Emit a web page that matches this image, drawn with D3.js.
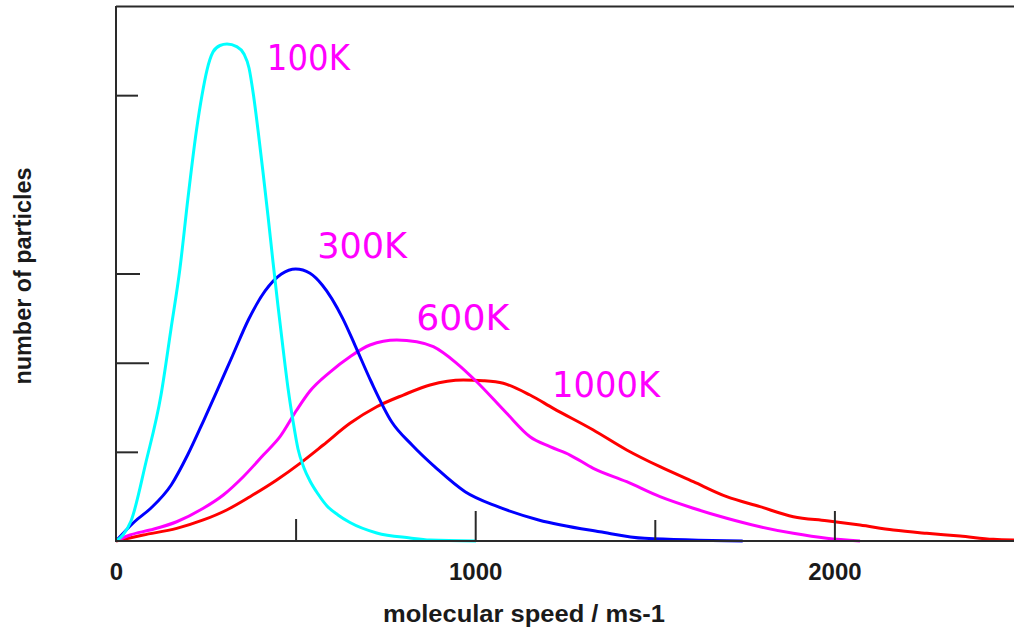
<!DOCTYPE html>
<html>
<head>
<meta charset="utf-8">
<script src="https://cdn.jsdelivr.net/npm/d3@7/dist/d3.min.js"></script>
<style>
  html, body { margin: 0; padding: 0; background: #fff; }
  svg { display: block; }
</style>
</head>
<body>
<svg id="chart" width="1014" height="632"></svg>
<script>
// ---------------- DATA ----------------
const seriesNames = ["100K", "300K", "600K", "1000K"];

// molecular speed (m/s) and relative number of particles
const speed100K = [0, 19.5, 41.8, 83.5, 125.3, 153.1, 178.2, 200.4, 224.1, 239.4, 253.3, 270.0, 289.5, 309.0, 336.0, 356.3, 370.3, 382.8, 395.3, 409.2, 423.2, 437.1, 451.0, 464.9, 478.8, 492.8, 506.7, 523.4, 540.1, 562.4, 587.4, 618.0, 651.4, 725.8, 818.5, 874.2, 1002.2];
const count100K = [0, 0.067, 0.224, 0.886, 1.637, 2.378, 3.062, 3.847, 4.609, 4.999, 5.282, 5.484, 5.557, 5.574, 5.544, 5.462, 5.305, 4.999, 4.609, 4.138, 3.645, 3.129, 2.636, 2.164, 1.716, 1.346, 1.032, 0.819, 0.673, 0.527, 0.393, 0.292, 0.207, 0.090, 0.034, 0.011, 0];

const speed300K = [0, 51.5, 96.9, 153.7, 199.3, 244.7, 278.7, 324.1, 369.7, 415.1, 460.5, 500.3, 540.1, 574.1, 631.1, 665.1, 710.5, 767.3, 824.1, 892.3, 971.9, 1062.9, 1176.5, 1346.9, 1471.9, 1744.7];
const count300K = [0, 0.216, 0.367, 0.628, 0.964, 1.357, 1.660, 2.075, 2.490, 2.804, 2.994, 3.050, 3.002, 2.871, 2.497, 2.198, 1.786, 1.338, 1.077, 0.815, 0.553, 0.385, 0.236, 0.104, 0.030, 0];

const speed600K = [0, 39, 94.7, 169, 243, 298.7, 354.4, 410.1, 456.6, 503.1, 540.1, 595.8, 651.4, 707.1, 781.5, 837.1, 883.4, 948.5, 1004.2, 1087.7, 1152.6, 1208.2, 1263.9, 1328.8, 1421.8, 1514.5, 1607.2, 1700.2, 1792.9, 1885.6, 1978.6, 2071.3];
const count600K = [0, 0.067, 0.123, 0.216, 0.367, 0.516, 0.721, 0.964, 1.170, 1.469, 1.682, 1.895, 2.067, 2.198, 2.254, 2.235, 2.179, 1.993, 1.786, 1.432, 1.170, 1.058, 0.964, 0.815, 0.665, 0.497, 0.367, 0.255, 0.160, 0.086, 0.030, 0];

const speed1000K = [0, 76, 169, 243, 308.2, 373.1, 447.4, 512.2, 577, 651.4, 725.8, 799.8, 874.2, 966.9, 1022.6, 1078.2, 1152.6, 1217.4, 1328.8, 1421.8, 1514.5, 1607.2, 1700.2, 1792.9, 1885.6, 1978.6, 2071.3, 2164, 2257, 2349.7, 2442.4, 2500];
const count1000K = [0, 0.067, 0.142, 0.236, 0.348, 0.497, 0.684, 0.871, 1.077, 1.320, 1.506, 1.637, 1.750, 1.806, 1.798, 1.769, 1.637, 1.488, 1.245, 1.021, 0.833, 0.665, 0.497, 0.385, 0.273, 0.228, 0.179, 0.123, 0.086, 0.056, 0.019, 0.011];

// where each curve's label sits (data units: speed, count)
const labelSpeed = [420, 560, 836, 1214];
const labelCount = [5.28, 3.17, 2.37, 1.615];

const xTickValues = [0, 500, 1000, 1500, 2000];
const xTickLabels = ["0", "", "1000", "", "2000"];
const yTickValues = [1, 2, 3, 5];

const xTitle = "molecular speed / ms-1";
const yTitle = "number of particles";

// ---------------- STYLE ----------------
const colors = ["#00ffff", "#0000ff", "#ff00ff", "#ff0000"];
const axisColor = "#2a2a2a";
const xTickLen = {0: 0, 500: 22, 1000: 30, 1500: 21, 2000: 30};
const yTickLen = {1: 22, 2: 33, 3: 24, 5: 22};
const labelWidths = [83, 90, 93, 108];

// ---------------- CHART ----------------
const svg = d3.select("#chart");
const x = d3.scaleLinear().domain([0, 2500]).range([116, 1014]);
const y = d3.scaleLinear().domain([0, 6]).range([541, 6]);

const series = [
  {name: seriesNames[0], s: speed100K, c: count100K},
  {name: seriesNames[1], s: speed300K, c: count300K},
  {name: seriesNames[2], s: speed600K, c: count600K},
  {name: seriesNames[3], s: speed1000K, c: count1000K}
];

// top frame line
svg.append("line")
  .attr("x1", x(0)).attr("x2", x(2500))
  .attr("y1", y(6) + 0.5).attr("y2", y(6) + 0.5)
  .attr("stroke", axisColor).attr("stroke-width", 2);

// curves
const line = d3.line()
  .x(d => x(d[0]))
  .y(d => y(d[1]))
  .curve(d3.curveMonotoneX);

const order = [3, 2, 1, 0];
order.forEach(i => {
  const sr = series[i];
  const pts = sr.s.map((v, k) => [v, sr.c[k]]);
  svg.append("path")
    .datum(pts)
    .attr("d", line)
    .attr("fill", "none")
    .attr("stroke", colors[i])
    .attr("stroke-width", 3)
    .attr("stroke-linejoin", "round");
});

// x axis
const xAxis = d3.axisBottom(x)
  .tickValues(xTickValues)
  .tickFormat((d, i) => xTickLabels[i])
  .tickSizeOuter(0)
  .tickSizeInner(0)
  .tickPadding(22);
const gx = svg.append("g").attr("transform", `translate(0,${y(0)})`).call(xAxis);
gx.select(".domain").attr("stroke", axisColor).attr("stroke-width", 2)
  .attr("d", `M${x(0)},0H${x(2500)}`);
gx.selectAll(".tick line")
  .attr("y2", d => -xTickLen[d])
  .attr("stroke", axisColor).attr("stroke-width", 2);
gx.selectAll(".tick text")
  .attr("fill", "#1a1a1a")
  .style("font-family", "'Liberation Sans', Arial, sans-serif")
  .style("font-weight", "bold")
  .style("font-size", "24px");

// y axis
const yAxis = d3.axisLeft(y)
  .tickValues(yTickValues)
  .tickFormat("")
  .tickSizeOuter(0)
  .tickSizeInner(0);
const gy = svg.append("g").attr("transform", `translate(${x(0)},0)`).call(yAxis);
gy.select(".domain").attr("stroke", axisColor).attr("stroke-width", 2)
  .attr("d", `M0,${y(6)}V${y(0) + 1}`);
gy.selectAll(".tick line")
  .attr("x2", d => yTickLen[d])
  .attr("stroke", axisColor).attr("stroke-width", 2);

// curve labels
series.forEach((sr, i) => {
  svg.append("text")
    .attr("x", x(labelSpeed[i]))
    .attr("y", y(labelCount[i]))
    .attr("fill", "#ff00ff")
    .attr("textLength", labelWidths[i])
    .attr("lengthAdjust", "spacingAndGlyphs")
    .style("font-family", "'DejaVu Sans', sans-serif")
    .style("font-size", "35px")
    .text(sr.name);
});

// axis titles
svg.append("text")
  .attr("x", 524).attr("y", 622)
  .attr("text-anchor", "middle")
  .attr("fill", "#1a1a1a")
  .attr("textLength", 282)
  .attr("lengthAdjust", "spacingAndGlyphs")
  .style("font-family", "'Liberation Sans', Arial, sans-serif")
  .style("font-weight", "bold")
  .style("font-size", "23px")
  .text(xTitle);

svg.append("text")
  .attr("transform", "translate(31,276) rotate(-90)")
  .attr("text-anchor", "middle")
  .attr("fill", "#1a1a1a")
  .attr("textLength", 217)
  .attr("lengthAdjust", "spacingAndGlyphs")
  .style("font-family", "'Liberation Sans', Arial, sans-serif")
  .style("font-weight", "bold")
  .style("font-size", "23px")
  .text(yTitle);
</script>
</body>
</html>
